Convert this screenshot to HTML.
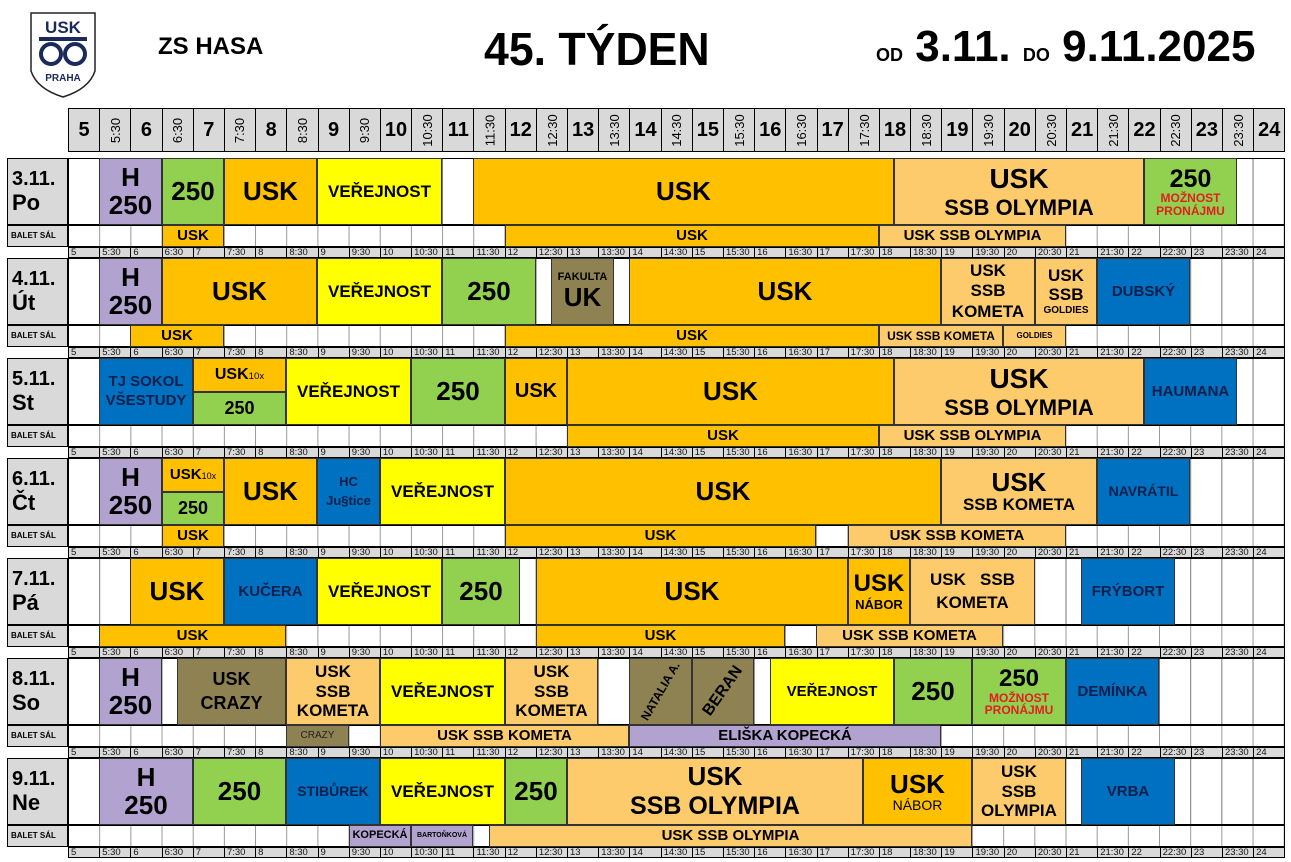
<!DOCTYPE html>
<html><head><meta charset="utf-8">
<style>
*{margin:0;padding:0;box-sizing:border-box}
body{width:1291px;height:862px;background:#fff;position:relative;overflow:hidden;font-family:"Liberation Sans",Arial,sans-serif;font-weight:bold;color:#000}
.a{position:absolute}
.hdr{position:absolute;left:68px;top:108px;width:1217px;height:44px;display:flex;border:1.5px solid #000;background:#d9d9d9}
.hdr div{width:31.2px;flex:none;border-right:1px solid #000;display:flex;align-items:center;justify-content:center;font-size:20px}
.hdr div.h span{display:block;transform:rotate(-90deg);font-size:13px;font-weight:normal;white-space:nowrap}
.lab{position:absolute;left:7px;width:61px;height:67px;background:#d9d9d9;border:1.5px solid #000;font-size:20px;line-height:24px;padding:8px 0 0 4px}
.bl{position:absolute;left:7px;width:61px;height:22px;background:#d9d9d9;border:1px solid #000;font-size:8px;line-height:20px;padding-left:3px}
.main{position:absolute;left:68px;width:1217px;height:67px;border:1.5px solid #000;background-color:#fff;background-image:linear-gradient(to right,#777 1px,transparent 1px);background-size:31.18px 100%;background-position:-1px 0}
.bal{position:absolute;left:68px;width:1217px;height:22px;border:1px solid #000;background-color:#fff;background-image:linear-gradient(to right,#999 1px,transparent 1px);background-size:31.18px 100%;background-position:-1px 0}
.tr{position:absolute;left:68px;width:1217px;height:11px;display:flex;background:#d9d9d9;border:1px solid #000;overflow:hidden}
.tr span{width:31.2px;flex:none;border-right:1px solid #000;font-size:9.5px;font-weight:normal;line-height:9px;padding-left:2px;color:#111}
.b{position:absolute;display:flex;flex-direction:column;align-items:center;justify-content:center;text-align:center;border:1px solid #333;line-height:1.05;overflow:hidden;white-space:nowrap}
.o{background:#ffc000}.l{background:#fdcb6c}.g{background:#92d050}.y{background:#ffff00}.p{background:#b2a2d0}.u{background:#0070c0;color:#0b1f4a}.v{background:#8f8252}
.red{color:#e02020;font-size:12px}
.sm{font-size:0.6em;font-weight:normal}
</style></head><body>

<svg class="a" style="left:29px;top:11px" width="68" height="88" viewBox="0 0 68 88">
<path d="M2 2 H66 V60 Q60 78 34 86 Q8 78 2 60 Z" fill="#fff" stroke="#222" stroke-width="1.5"/>
<text x="34" y="22" font-family="Liberation Sans" font-weight="bold" font-size="17" text-anchor="middle" fill="#1a2a5a">USK</text>
<rect x="10" y="26" width="48" height="4" fill="#1a2a5a"/>
<circle cx="22" cy="43" r="10" fill="none" stroke="#1a2a5a" stroke-width="4"/>
<circle cx="46" cy="43" r="10" fill="none" stroke="#1a2a5a" stroke-width="4"/>
<text x="34" y="70" font-family="Liberation Sans" font-weight="bold" font-size="10" text-anchor="middle" fill="#1a2a5a">PRAHA</text>
</svg>
<div class="a" style="left:158px;top:33px;font-size:24px">ZS HASA</div>
<div class="a" style="left:484px;top:22px;font-size:46px;white-space:nowrap;transform:scaleX(0.97);transform-origin:left">45. TÝDEN</div>
<div class="a" style="left:876px;top:22px;font-size:44px;white-space:nowrap;transform:scaleX(1.0);transform-origin:left"><span style="font-size:18px">OD</span> 3.11. <span style="font-size:18px">DO</span> 9.11.2025</div>

<div class="hdr">
<div>5</div><div class="h"><span>5:30</span></div><div>6</div><div class="h"><span>6:30</span></div><div>7</div><div class="h"><span>7:30</span></div><div>8</div><div class="h"><span>8:30</span></div><div>9</div><div class="h"><span>9:30</span></div><div>10</div><div class="h"><span>10:30</span></div><div>11</div><div class="h"><span>11:30</span></div><div>12</div><div class="h"><span>12:30</span></div><div>13</div><div class="h"><span>13:30</span></div><div>14</div><div class="h"><span>14:30</span></div><div>15</div><div class="h"><span>15:30</span></div><div>16</div><div class="h"><span>16:30</span></div><div>17</div><div class="h"><span>17:30</span></div><div>18</div><div class="h"><span>18:30</span></div><div>19</div><div class="h"><span>19:30</span></div><div>20</div><div class="h"><span>20:30</span></div><div>21</div><div class="h"><span>21:30</span></div><div>22</div><div class="h"><span>22:30</span></div><div>23</div><div class="h"><span>23:30</span></div><div>24</div>
</div>

<div class="main" style="top:158px"></div><div class="bal" style="top:225px"></div>
<div class="main" style="top:258px"></div><div class="bal" style="top:325px"></div>
<div class="main" style="top:358px"></div><div class="bal" style="top:425px"></div>
<div class="main" style="top:458px"></div><div class="bal" style="top:525px"></div>
<div class="main" style="top:558px"></div><div class="bal" style="top:625px"></div>
<div class="main" style="top:658px"></div><div class="bal" style="top:725px"></div>
<div class="main" style="top:758px"></div><div class="bal" style="top:825px"></div>

<div class="lab" style="top:158px">3.11.<br><span style="font-size:22px">Po</span></div><div class="bl" style="top:225px">BALET SÁL</div>
<div class="lab" style="top:258px">4.11.<br><span style="font-size:22px">Út</span></div><div class="bl" style="top:325px">BALET SÁL</div>
<div class="lab" style="top:358px">5.11.<br><span style="font-size:22px">St</span></div><div class="bl" style="top:425px">BALET SÁL</div>
<div class="lab" style="top:458px">6.11.<br><span style="font-size:22px">Čt</span></div><div class="bl" style="top:525px">BALET SÁL</div>
<div class="lab" style="top:558px">7.11.<br><span style="font-size:22px">Pá</span></div><div class="bl" style="top:625px">BALET SÁL</div>
<div class="lab" style="top:658px">8.11.<br><span style="font-size:22px">So</span></div><div class="bl" style="top:725px">BALET SÁL</div>
<div class="lab" style="top:758px">9.11.<br><span style="font-size:22px">Ne</span></div><div class="bl" style="top:825px">BALET SÁL</div>

<div class="tr" style="top:247px"><span>5</span><span>5:30</span><span>6</span><span>6:30</span><span>7</span><span>7:30</span><span>8</span><span>8:30</span><span>9</span><span>9:30</span><span>10</span><span>10:30</span><span>11</span><span>11:30</span><span>12</span><span>12:30</span><span>13</span><span>13:30</span><span>14</span><span>14:30</span><span>15</span><span>15:30</span><span>16</span><span>16:30</span><span>17</span><span>17:30</span><span>18</span><span>18:30</span><span>19</span><span>19:30</span><span>20</span><span>20:30</span><span>21</span><span>21:30</span><span>22</span><span>22:30</span><span>23</span><span>23:30</span><span>24</span></div>
<div class="tr" style="top:347px"><span>5</span><span>5:30</span><span>6</span><span>6:30</span><span>7</span><span>7:30</span><span>8</span><span>8:30</span><span>9</span><span>9:30</span><span>10</span><span>10:30</span><span>11</span><span>11:30</span><span>12</span><span>12:30</span><span>13</span><span>13:30</span><span>14</span><span>14:30</span><span>15</span><span>15:30</span><span>16</span><span>16:30</span><span>17</span><span>17:30</span><span>18</span><span>18:30</span><span>19</span><span>19:30</span><span>20</span><span>20:30</span><span>21</span><span>21:30</span><span>22</span><span>22:30</span><span>23</span><span>23:30</span><span>24</span></div>
<div class="tr" style="top:447px"><span>5</span><span>5:30</span><span>6</span><span>6:30</span><span>7</span><span>7:30</span><span>8</span><span>8:30</span><span>9</span><span>9:30</span><span>10</span><span>10:30</span><span>11</span><span>11:30</span><span>12</span><span>12:30</span><span>13</span><span>13:30</span><span>14</span><span>14:30</span><span>15</span><span>15:30</span><span>16</span><span>16:30</span><span>17</span><span>17:30</span><span>18</span><span>18:30</span><span>19</span><span>19:30</span><span>20</span><span>20:30</span><span>21</span><span>21:30</span><span>22</span><span>22:30</span><span>23</span><span>23:30</span><span>24</span></div>
<div class="tr" style="top:547px"><span>5</span><span>5:30</span><span>6</span><span>6:30</span><span>7</span><span>7:30</span><span>8</span><span>8:30</span><span>9</span><span>9:30</span><span>10</span><span>10:30</span><span>11</span><span>11:30</span><span>12</span><span>12:30</span><span>13</span><span>13:30</span><span>14</span><span>14:30</span><span>15</span><span>15:30</span><span>16</span><span>16:30</span><span>17</span><span>17:30</span><span>18</span><span>18:30</span><span>19</span><span>19:30</span><span>20</span><span>20:30</span><span>21</span><span>21:30</span><span>22</span><span>22:30</span><span>23</span><span>23:30</span><span>24</span></div>
<div class="tr" style="top:647px"><span>5</span><span>5:30</span><span>6</span><span>6:30</span><span>7</span><span>7:30</span><span>8</span><span>8:30</span><span>9</span><span>9:30</span><span>10</span><span>10:30</span><span>11</span><span>11:30</span><span>12</span><span>12:30</span><span>13</span><span>13:30</span><span>14</span><span>14:30</span><span>15</span><span>15:30</span><span>16</span><span>16:30</span><span>17</span><span>17:30</span><span>18</span><span>18:30</span><span>19</span><span>19:30</span><span>20</span><span>20:30</span><span>21</span><span>21:30</span><span>22</span><span>22:30</span><span>23</span><span>23:30</span><span>24</span></div>
<div class="tr" style="top:747px"><span>5</span><span>5:30</span><span>6</span><span>6:30</span><span>7</span><span>7:30</span><span>8</span><span>8:30</span><span>9</span><span>9:30</span><span>10</span><span>10:30</span><span>11</span><span>11:30</span><span>12</span><span>12:30</span><span>13</span><span>13:30</span><span>14</span><span>14:30</span><span>15</span><span>15:30</span><span>16</span><span>16:30</span><span>17</span><span>17:30</span><span>18</span><span>18:30</span><span>19</span><span>19:30</span><span>20</span><span>20:30</span><span>21</span><span>21:30</span><span>22</span><span>22:30</span><span>23</span><span>23:30</span><span>24</span></div>
<div class="tr" style="top:847px"><span>5</span><span>5:30</span><span>6</span><span>6:30</span><span>7</span><span>7:30</span><span>8</span><span>8:30</span><span>9</span><span>9:30</span><span>10</span><span>10:30</span><span>11</span><span>11:30</span><span>12</span><span>12:30</span><span>13</span><span>13:30</span><span>14</span><span>14:30</span><span>15</span><span>15:30</span><span>16</span><span>16:30</span><span>17</span><span>17:30</span><span>18</span><span>18:30</span><span>19</span><span>19:30</span><span>20</span><span>20:30</span><span>21</span><span>21:30</span><span>22</span><span>22:30</span><span>23</span><span>23:30</span><span>24</span></div>

<!-- DAY 1 -->
<div class="b p" style="left:99px;top:158px;width:63px;height:67px;font-size:26px">H<br>250</div>
<div class="b g" style="left:162px;top:158px;width:62px;height:67px;font-size:26px">250</div>
<div class="b o" style="left:224px;top:158px;width:93px;height:67px;font-size:26px">USK</div>
<div class="b y" style="left:317px;top:158px;width:125px;height:67px;font-size:17px">VEŘEJNOST</div>
<div class="b o" style="left:473px;top:158px;width:421px;height:67px;font-size:26px">USK</div>
<div class="b l" style="left:894px;top:158px;width:250px;height:67px;font-size:28px;line-height:1.15">USK<span style="font-size:22px">SSB OLYMPIA</span></div>
<div class="b g" style="left:1144px;top:158px;width:93px;height:67px;font-size:25px">250<span class="red">MOŽNOST</span><span class="red">PRONÁJMU</span></div>
<div class="b o" style="left:162px;top:225px;width:62px;height:22px;font-size:15px">USK</div>
<div class="b o" style="left:505px;top:225px;width:374px;height:22px;font-size:15px">USK</div>
<div class="b l" style="left:879px;top:225px;width:187px;height:22px;font-size:15px">USK SSB OLYMPIA</div>

<!-- DAY 2 -->
<div class="b p" style="left:99px;top:258px;width:63px;height:67px;font-size:26px">H<br>250</div>
<div class="b o" style="left:162px;top:258px;width:155px;height:67px;font-size:26px">USK</div>
<div class="b y" style="left:317px;top:258px;width:125px;height:67px;font-size:17px">VEŘEJNOST</div>
<div class="b g" style="left:442px;top:258px;width:94px;height:67px;font-size:26px">250</div>
<div class="b v" style="left:551px;top:258px;width:63px;height:67px;font-size:26px"><span style="font-size:11px">FAKULTA</span>UK</div>
<div class="b o" style="left:629px;top:258px;width:312px;height:67px;font-size:26px">USK</div>
<div class="b l" style="left:941px;top:258px;width:94px;height:67px;font-size:17px;line-height:1.2">USK<br>SSB<br>KOMETA</div>
<div class="b l" style="left:1035px;top:258px;width:62px;height:67px;font-size:17px;line-height:1.1">USK<br>SSB<span style="font-size:10px">GOLDIES</span></div>
<div class="b u" style="left:1097px;top:258px;width:93px;height:67px;font-size:15px">DUBSKÝ</div>
<div class="b o" style="left:130px;top:325px;width:94px;height:22px;font-size:15px">USK</div>
<div class="b o" style="left:505px;top:325px;width:374px;height:22px;font-size:15px">USK</div>
<div class="b l" style="left:879px;top:325px;width:124px;height:22px;font-size:12px">USK SSB KOMETA</div>
<div class="b l" style="left:1003px;top:325px;width:63px;height:22px;font-size:8px">GOLDIES</div>

<!-- DAY 3 -->
<div class="b u" style="left:99px;top:358px;width:94px;height:67px;font-size:15px;line-height:1.25">TJ SOKOL<br>VŠESTUDY</div>
<div class="b o" style="left:193px;top:358px;width:93px;height:34px;font-size:16px"><span>USK<span class="sm">10x</span></span></div>
<div class="b g" style="left:193px;top:392px;width:93px;height:33px;font-size:18px">250</div>
<div class="b y" style="left:286px;top:358px;width:125px;height:67px;font-size:17px">VEŘEJNOST</div>
<div class="b g" style="left:411px;top:358px;width:94px;height:67px;font-size:26px">250</div>
<div class="b o" style="left:505px;top:358px;width:62px;height:67px;font-size:20px">USK</div>
<div class="b o" style="left:567px;top:358px;width:327px;height:67px;font-size:26px">USK</div>
<div class="b l" style="left:894px;top:358px;width:250px;height:67px;font-size:28px;line-height:1.15">USK<span style="font-size:22px">SSB OLYMPIA</span></div>
<div class="b u" style="left:1144px;top:358px;width:93px;height:67px;font-size:15px">HAUMANA</div>
<div class="b o" style="left:567px;top:425px;width:312px;height:22px;font-size:15px">USK</div>
<div class="b l" style="left:879px;top:425px;width:187px;height:22px;font-size:15px">USK SSB OLYMPIA</div>

<!-- DAY 4 -->
<div class="b p" style="left:99px;top:458px;width:63px;height:67px;font-size:26px">H<br>250</div>
<div class="b o" style="left:162px;top:458px;width:62px;height:34px;font-size:15px"><span>USK<span class="sm">10x</span></span></div>
<div class="b g" style="left:162px;top:492px;width:62px;height:33px;font-size:18px">250</div>
<div class="b o" style="left:224px;top:458px;width:93px;height:67px;font-size:26px">USK</div>
<div class="b u" style="left:317px;top:458px;width:63px;height:67px;font-size:13px;line-height:1.4">HC<br>Ju§tice</div>
<div class="b y" style="left:380px;top:458px;width:125px;height:67px;font-size:17px">VEŘEJNOST</div>
<div class="b o" style="left:505px;top:458px;width:436px;height:67px;font-size:26px">USK</div>
<div class="b l" style="left:941px;top:458px;width:156px;height:67px;font-size:26px;line-height:1.1">USK<span style="font-size:17px">SSB KOMETA</span></div>
<div class="b u" style="left:1097px;top:458px;width:93px;height:67px;font-size:14px">NAVRÁTIL</div>
<div class="b o" style="left:162px;top:525px;width:62px;height:22px;font-size:15px">USK</div>
<div class="b o" style="left:505px;top:525px;width:311px;height:22px;font-size:15px">USK</div>
<div class="b l" style="left:848px;top:525px;width:218px;height:22px;font-size:15px">USK SSB KOMETA</div>

<!-- DAY 5 -->
<div class="b o" style="left:130px;top:558px;width:94px;height:67px;font-size:26px">USK</div>
<div class="b u" style="left:224px;top:558px;width:93px;height:67px;font-size:15px">KUČERA</div>
<div class="b y" style="left:317px;top:558px;width:125px;height:67px;font-size:17px">VEŘEJNOST</div>
<div class="b g" style="left:442px;top:558px;width:78px;height:67px;font-size:26px">250</div>
<div class="b o" style="left:536px;top:558px;width:312px;height:67px;font-size:26px">USK</div>
<div class="b o" style="left:848px;top:558px;width:62px;height:67px;font-size:24px;line-height:1.1">USK<span style="font-size:13px">NÁBOR</span></div>
<div class="b l" style="left:910px;top:558px;width:125px;height:67px;font-size:17px;line-height:1.3">USK&nbsp;&nbsp;&nbsp;SSB<br>KOMETA</div>
<div class="b u" style="left:1081px;top:558px;width:94px;height:67px;font-size:15px">FRÝBORT</div>
<div class="b o" style="left:99px;top:625px;width:187px;height:22px;font-size:15px">USK</div>
<div class="b o" style="left:536px;top:625px;width:249px;height:22px;font-size:15px">USK</div>
<div class="b l" style="left:816px;top:625px;width:187px;height:22px;font-size:15px">USK SSB KOMETA</div>

<!-- DAY 6 -->
<div class="b p" style="left:99px;top:658px;width:63px;height:67px;font-size:26px">H<br>250</div>
<div class="b v" style="left:177px;top:658px;width:109px;height:67px;font-size:18px;line-height:1.3">USK<br>CRAZY</div>
<div class="b l" style="left:286px;top:658px;width:94px;height:67px;font-size:17px;line-height:1.15">USK<br>SSB<br>KOMETA</div>
<div class="b y" style="left:380px;top:658px;width:125px;height:67px;font-size:17px">VEŘEJNOST</div>
<div class="b l" style="left:505px;top:658px;width:93px;height:67px;font-size:17px;line-height:1.15">USK<br>SSB<br>KOMETA</div>
<div class="b v" style="left:629px;top:658px;width:63px;height:67px;font-size:12px"><span style="transform:rotate(-60deg);display:block">NATALIA A.</span></div>
<div class="b v" style="left:692px;top:658px;width:62px;height:67px;font-size:16px"><span style="transform:rotate(-55deg);display:block">BERAN</span></div>
<div class="b y" style="left:770px;top:658px;width:124px;height:67px;font-size:15px">VEŘEJNOST</div>
<div class="b g" style="left:894px;top:658px;width:78px;height:67px;font-size:26px">250</div>
<div class="b g" style="left:972px;top:658px;width:94px;height:67px;font-size:24px">250<span class="red">MOŽNOST</span><span class="red">PRONÁJMU</span></div>
<div class="b u" style="left:1066px;top:658px;width:93px;height:67px;font-size:15px">DEMÍNKA</div>
<div class="b v" style="left:286px;top:725px;width:63px;height:22px;font-size:10px;font-weight:normal;color:#222">CRAZY</div>
<div class="b l" style="left:380px;top:725px;width:249px;height:22px;font-size:15px">USK SSB KOMETA</div>
<div class="b p" style="left:629px;top:725px;width:312px;height:22px;font-size:15px">ELIŠKA KOPECKÁ</div>

<!-- DAY 7 -->
<div class="b p" style="left:99px;top:758px;width:94px;height:67px;font-size:26px">H<br>250</div>
<div class="b g" style="left:193px;top:758px;width:93px;height:67px;font-size:26px">250</div>
<div class="b u" style="left:286px;top:758px;width:94px;height:67px;font-size:14px">STIBŮREK</div>
<div class="b y" style="left:380px;top:758px;width:125px;height:67px;font-size:17px">VEŘEJNOST</div>
<div class="b g" style="left:505px;top:758px;width:62px;height:67px;font-size:26px">250</div>
<div class="b l" style="left:567px;top:758px;width:296px;height:67px;font-size:26px;line-height:1.15">USK<span style="font-size:25px">SSB OLYMPIA</span></div>
<div class="b o" style="left:863px;top:758px;width:109px;height:67px;font-size:26px;line-height:1.1">USK<span style="font-size:14px;font-weight:normal">NÁBOR</span></div>
<div class="b l" style="left:972px;top:758px;width:94px;height:67px;font-size:17px;line-height:1.15">USK<br>SSB<br>OLYMPIA</div>
<div class="b u" style="left:1081px;top:758px;width:94px;height:67px;font-size:15px">VRBA</div>
<div class="b p" style="left:349px;top:825px;width:62px;height:22px;font-size:11px">KOPECKÁ</div>
<div class="b p" style="left:411px;top:825px;width:62px;height:22px;font-size:7px">BARTOŇKOVÁ</div>
<div class="b l" style="left:489px;top:825px;width:483px;height:22px;font-size:15px">USK SSB OLYMPIA</div>

</body></html>
